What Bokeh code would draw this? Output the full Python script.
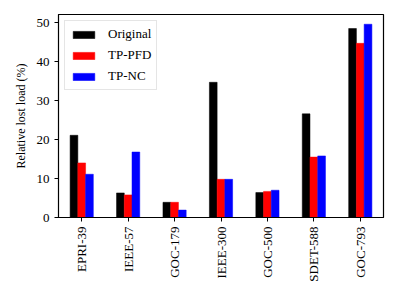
import math
from bokeh.plotting import figure
from bokeh.models import ColumnDataSource, FixedTicker, Range1d, Legend, LegendItem
from bokeh.embed import file_html
from bokeh.resources import INLINE

systems = ["EPRI-39", "IEEE-57", "GOC-179", "IEEE-300", "GOC-500", "SDET-588", "GOC-793"]
original = [21.1, 6.3, 3.9, 34.7, 6.4, 26.6, 48.5]
tp_pfd = [14.0, 5.8, 3.9, 9.8, 6.7, 15.5, 44.7]
tp_nc = [11.1, 16.8, 1.9, 9.8, 7.0, 15.8, 49.6]
series_names = ["Original", "TP-PFD", "TP-NC"]
colors = ["black", "red", "blue"]
y_ticks = [0, 10, 20, 30, 40, 50]

FONT = "Liberation Serif"

p = figure(width=390, height=294, output_backend="svg", toolbar_location=None,
           x_range=Range1d(-0.5, 6.5), y_range=Range1d(0, 52.1),
           min_border_left=58, min_border_right=7, min_border_top=14, min_border_bottom=77)

idx = list(range(len(systems)))
w = 1 / 6
items = []
for k, (name, vals, c) in enumerate(zip(series_names, [original, tp_pfd, tp_nc], colors)):
    off = (k - 1) * w
    src = ColumnDataSource(dict(x=[i + off for i in idx], top=vals))
    r = p.vbar(x="x", top="top", width=w, bottom=0, source=src,
               fill_color=c, line_color=c, line_width=0.5)
    items.append(LegendItem(label=name, renderers=[r]))

p.xgrid.visible = False
p.ygrid.visible = False
p.outline_line_color = "black"
p.outline_line_width = 1.2

p.xaxis.ticker = FixedTicker(ticks=idx)
p.xaxis.major_label_overrides = {i: s for i, s in zip(idx, systems)}
p.xaxis.major_label_orientation = math.pi / 2
p.yaxis.ticker = FixedTicker(ticks=y_ticks)
for ax in (p.xaxis[0], p.yaxis[0]):
    ax.minor_tick_line_color = None
    ax.major_tick_in = 0
    ax.major_tick_out = 4
    ax.major_tick_line_color = "black"
    ax.axis_line_color = "black"
    ax.major_label_text_font = FONT
    ax.major_label_text_font_size = "13px"
    ax.major_label_text_color = "black"
    ax.axis_label_text_font = FONT
    ax.axis_label_text_font_style = "normal"
    ax.axis_label_text_font_size = "12px"
    ax.axis_label_text_color = "black"
p.yaxis.axis_label = "Relative lost load (%)"
p.yaxis.axis_label_standoff = 6

legend = Legend(items=items, location="top_left")
legend.label_text_font = FONT
legend.label_text_font_size = "13px"
legend.label_text_color = "black"
legend.glyph_width = 27
legend.glyph_height = 9
legend.spacing = 5
legend.padding = 5
legend.margin = 6
legend.border_line_color = "#cccccc"
legend.border_line_width = 1
legend.label_standoff = 11
legend.label_height = 14
p.add_layout(legend)

open("out.html", "w").write(file_html(p, INLINE))
